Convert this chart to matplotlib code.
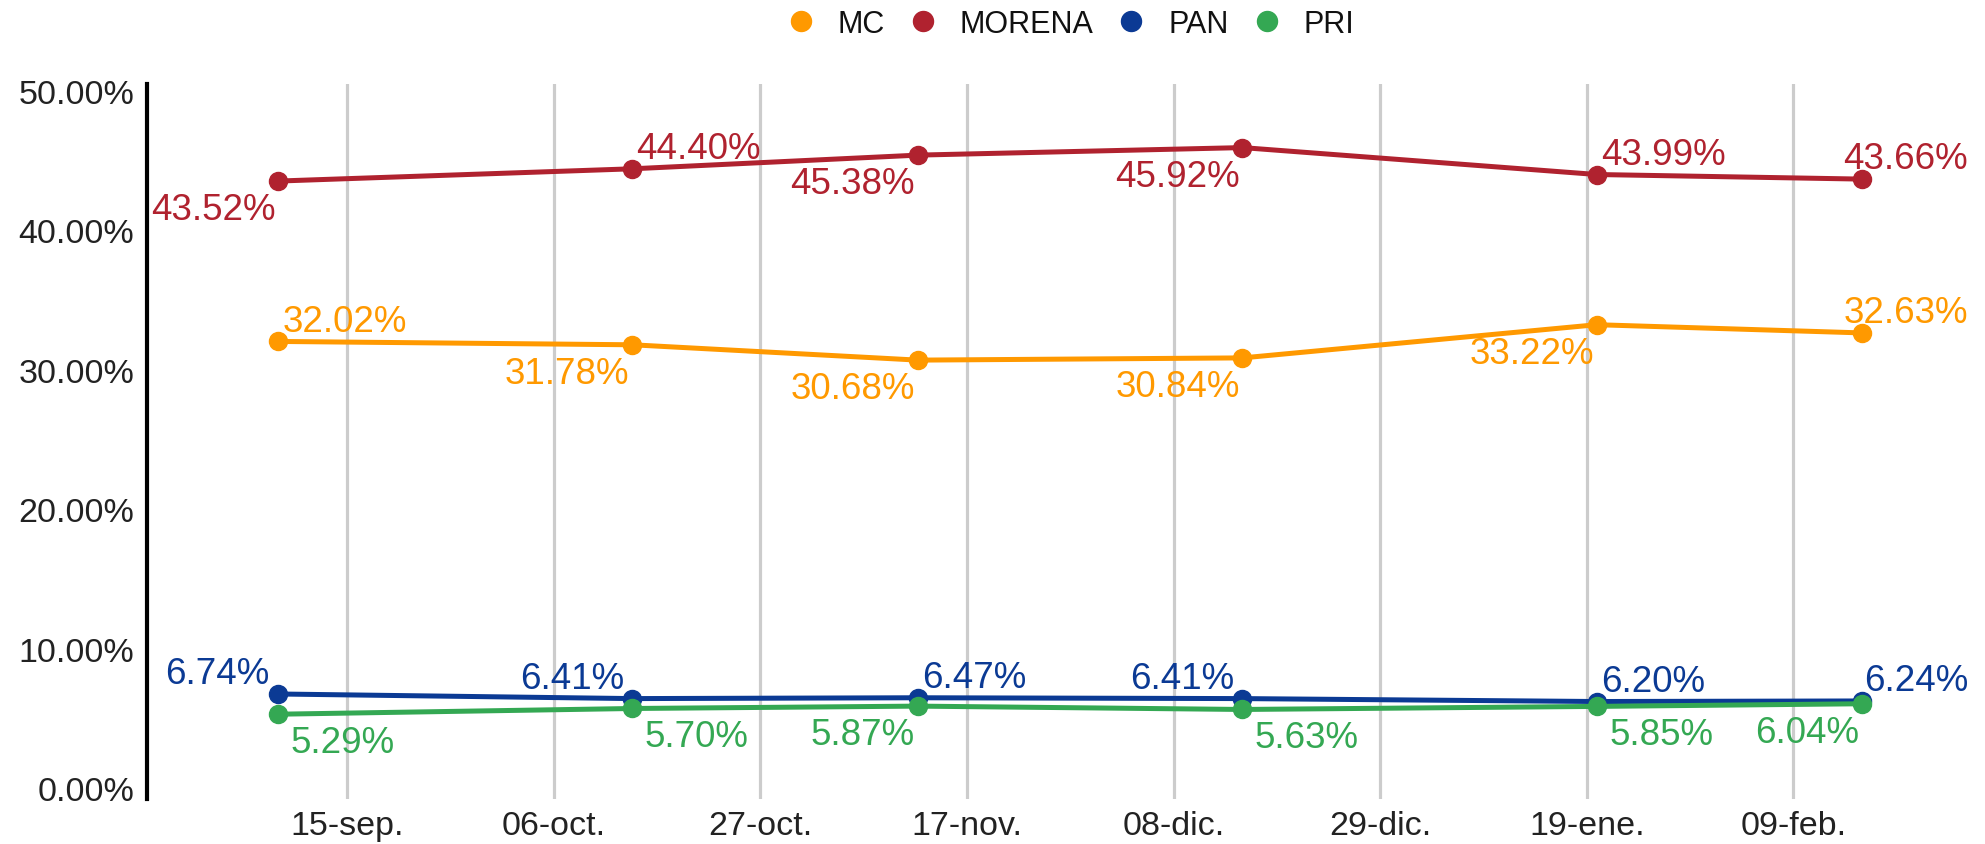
import matplotlib
matplotlib.use('Agg')
import matplotlib.pyplot as plt
import matplotlib.dates as mdates
import numpy as np
from datetime import date, timedelta

plt.rcParams['font.family'] = ['Liberation Sans', 'DejaVu Sans']

# encuestas
fechas = [date(2023, 9, 8), date(2023, 10, 14), date(2023, 11, 12),
          date(2023, 12, 15), date(2024, 1, 20), date(2024, 2, 16)]
mc = [32.02, 31.78, 30.68, 30.84, 33.22, 32.63]
morena = [43.52, 44.40, 45.38, 45.92, 43.99, 43.66]
pan = [6.74, 6.41, 6.47, 6.41, 6.20, 6.24]
pri = [5.29, 5.70, 5.87, 5.63, 5.85, 6.04]

partidos = ['MC', 'MORENA', 'PAN', 'PRI']
colores = ['#FF9900', '#B0222F', '#0B3A94', '#34A853']
series = [mc, morena, pan, pri]

# donde va cada etiqueta: ar=arriba-derecha, al=arriba-izq, bl=abajo-izq, br=abajo-der
pos = [
    ['ar', 'bl', 'bl', 'bl', 'bl', 'ar'],
    ['bl', 'ar', 'bl', 'bl', 'ar', 'ar'],
    ['al', 'al', 'ar', 'al', 'ar', 'ar'],
    ['br', 'br', 'bl', 'br', 'br', 'bl'],
]
desp = {'ar': (3, 14.5, 'left'), 'al': (-6, 14.5, 'right'),
        'bl': (-2, -20.5, 'right'), 'br': (9, -20.5, 'left')}

ticks = [date(2023, 9, 15) + timedelta(days=21 * i) for i in range(8)]
meses = {9: 'sep', 10: 'oct', 11: 'nov', 12: 'dic', 1: 'ene', 2: 'feb'}
tick_labels = ['%02d-%s.' % (d.day, meses[d.month]) for d in ticks]

fig = plt.figure(figsize=(19.85, 8.45), dpi=100)
ax = fig.add_axes([146.7 / 1985, 1 - 800 / 845, (1945 - 146.7) / 1985, (800 - 85) / 845])

etiquetas = []
for nombre, col, ys, pp in zip(partidos, colores, series, pos):
    ax.plot(fechas, ys, '-o', color=col, lw=3.6, ms=13, label=nombre,
            solid_capstyle='round')
    for x, y, p in zip(fechas, ys, pp):
        dx, dy, ha = desp[p]
        t = ax.annotate('%.2f%%' % y, (mdates.date2num(x), y), xytext=(dx, dy),
                        textcoords='offset points', ha=ha, va='center',
                        fontsize=26.5, color=col)
        etiquetas.append((t, dx, dy))

x0 = mdates.date2num(ticks[0])
ax.set_xlim(x0 - 20.36, x0 + 147 + 15.4)
ax.set_ylim(-0.79, 50.48)
ax.set_xticks([mdates.date2num(t) for t in ticks])
ax.set_xticklabels(tick_labels)
ax.set_yticks(np.arange(0, 51, 10))
ax.set_yticklabels(['%.2f%%' % v for v in np.arange(0, 51, 10)])
ax.tick_params(axis='both', length=0, labelsize=24.5, colors='#222222')
ax.tick_params(axis='y', pad=9)
ax.tick_params(axis='x', pad=8)
ax.grid(True, axis='x', color='#cccccc', lw=2.3)
ax.set_axisbelow(True)
for s in ['top', 'right', 'bottom']:
    ax.spines[s].set_visible(False)
ax.spines['left'].set_linewidth(3)
ax.spines['left'].set_color('black')

handles = [plt.Line2D([], [], ls='none', marker='o', ms=14.4, color=c) for c in colores]
fig.legend(handles, partidos, loc='center', bbox_to_anchor=(1072 / 1985, 1 - 25 / 845),
           ncol=4, frameon=False, fontsize=22, handlelength=0.7,
           handletextpad=0.85, columnspacing=0.9, labelcolor='#111111')

# meter dentro las etiquetas que se salen por la derecha
fig.canvas.draw()
r = fig.canvas.get_renderer()
limite = 1968
for t, dx, dy in etiquetas:
    bb = t.get_window_extent(r)
    if bb.x1 > limite:
        t.set_position((dx - (bb.x1 - limite) * 72 / fig.dpi, dy))

fig.savefig('out.png', dpi=100)
